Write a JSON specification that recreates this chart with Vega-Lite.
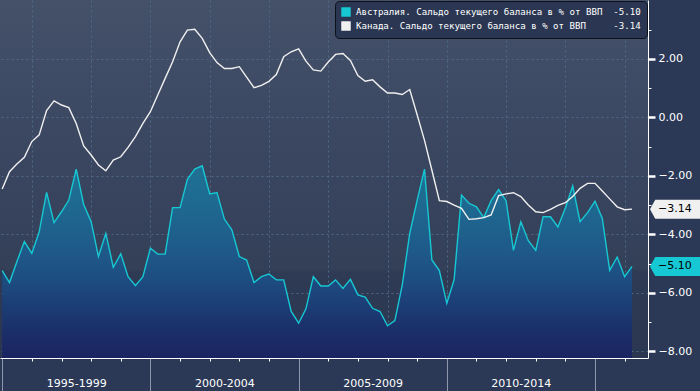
{
  "$schema": "https://vega.github.io/schema/vega-lite/v6.json",
  "width": 648,
  "height": 358,
  "autosize": {"type": "none"},
  "padding": {"left": 0, "top": 0, "right": 52, "bottom": 33},
  "background": "#2c3956",
  "config": {
    "view": {
      "stroke": null,
      "fill": {"gradient": "linear", "x1": 0, "y1": 0, "x2": 0, "y2": 1,
        "stops": [
          {"offset": 0, "color": "#445169"},
          {"offset": 0.45, "color": "#3a4660"},
          {"offset": 0.75, "color": "#343f58"},
          {"offset": 0.76, "color": "#2f3a54"},
          {"offset": 1, "color": "#2b3650"}
        ]}
    },
    "font": "DejaVu Sans"
  },
  "data": {"values": [
    {"d":"1995-01-01","au":-5.24,"ca":-2.45},
    {"d":"1995-04-01","au":-5.65,"ca":-1.86},
    {"d":"1995-07-01","au":-4.94,"ca":-1.60},
    {"d":"1995-10-01","au":-4.25,"ca":-1.37},
    {"d":"1996-01-01","au":-4.65,"ca":-0.83},
    {"d":"1996-04-01","au":-3.92,"ca":-0.60},
    {"d":"1996-07-01","au":-2.57,"ca":0.23},
    {"d":"1996-10-01","au":-3.60,"ca":0.56},
    {"d":"1997-01-01","au":-3.23,"ca":0.42},
    {"d":"1997-04-01","au":-2.83,"ca":0.33},
    {"d":"1997-07-01","au":-1.77,"ca":-0.21},
    {"d":"1997-10-01","au":-2.98,"ca":-0.98},
    {"d":"1998-01-01","au":-3.57,"ca":-1.29},
    {"d":"1998-04-01","au":-4.76,"ca":-1.63},
    {"d":"1998-07-01","au":-3.97,"ca":-1.83},
    {"d":"1998-10-01","au":-5.13,"ca":-1.46},
    {"d":"1999-01-01","au":-4.67,"ca":-1.35},
    {"d":"1999-04-01","au":-5.45,"ca":-1.03},
    {"d":"1999-07-01","au":-5.76,"ca":-0.66},
    {"d":"1999-10-01","au":-5.45,"ca":-0.21},
    {"d":"2000-01-01","au":-4.48,"ca":0.19},
    {"d":"2000-04-01","au":-4.68,"ca":0.76},
    {"d":"2000-07-01","au":-4.68,"ca":1.33},
    {"d":"2000-10-01","au":-3.09,"ca":1.90},
    {"d":"2001-01-01","au":-3.09,"ca":2.58},
    {"d":"2001-04-01","au":-2.12,"ca":2.98},
    {"d":"2001-07-01","au":-1.77,"ca":3.01},
    {"d":"2001-10-01","au":-1.66,"ca":2.70},
    {"d":"2002-01-01","au":-2.62,"ca":2.21},
    {"d":"2002-04-01","au":-2.57,"ca":1.87},
    {"d":"2002-07-01","au":-3.48,"ca":1.67},
    {"d":"2002-10-01","au":-3.85,"ca":1.67},
    {"d":"2003-01-01","au":-4.76,"ca":1.73},
    {"d":"2003-04-01","au":-4.88,"ca":1.37},
    {"d":"2003-07-01","au":-5.65,"ca":1.01},
    {"d":"2003-10-01","au":-5.45,"ca":1.09},
    {"d":"2004-01-01","au":-5.36,"ca":1.23},
    {"d":"2004-04-01","au":-5.56,"ca":1.46},
    {"d":"2004-07-01","au":-5.56,"ca":2.07},
    {"d":"2004-10-01","au":-6.64,"ca":2.24},
    {"d":"2005-01-01","au":-7.04,"ca":2.34},
    {"d":"2005-04-01","au":-6.55,"ca":1.92},
    {"d":"2005-07-01","au":-5.45,"ca":1.62},
    {"d":"2005-10-01","au":-5.77,"ca":1.58},
    {"d":"2006-01-01","au":-5.77,"ca":1.89},
    {"d":"2006-04-01","au":-5.56,"ca":2.15},
    {"d":"2006-07-01","au":-5.85,"ca":2.18},
    {"d":"2006-10-01","au":-5.54,"ca":1.94},
    {"d":"2007-01-01","au":-6.07,"ca":1.43},
    {"d":"2007-04-01","au":-6.15,"ca":1.23},
    {"d":"2007-07-01","au":-6.53,"ca":1.28},
    {"d":"2007-10-01","au":-6.64,"ca":1.04},
    {"d":"2008-01-01","au":-7.13,"ca":0.83},
    {"d":"2008-04-01","au":-6.95,"ca":0.83},
    {"d":"2008-07-01","au":-5.73,"ca":0.78},
    {"d":"2008-10-01","au":-3.97,"ca":0.95},
    {"d":"2009-01-01","au":-2.83,"ca":0.08},
    {"d":"2009-04-01","au":-1.77,"ca":-0.79},
    {"d":"2009-07-01","au":-4.88,"ca":-1.81},
    {"d":"2009-10-01","au":-5.24,"ca":-2.85},
    {"d":"2010-01-01","au":-6.36,"ca":-2.88},
    {"d":"2010-04-01","au":-5.55,"ca":-3.00},
    {"d":"2010-07-01","au":-2.66,"ca":-3.11},
    {"d":"2010-10-01","au":-2.94,"ca":-3.49},
    {"d":"2011-01-01","au":-3.06,"ca":-3.47},
    {"d":"2011-04-01","au":-3.43,"ca":-3.43},
    {"d":"2011-07-01","au":-2.85,"ca":-3.34},
    {"d":"2011-10-01","au":-2.47,"ca":-2.68},
    {"d":"2012-01-01","au":-2.85,"ca":-2.62},
    {"d":"2012-04-01","au":-4.55,"ca":-2.58},
    {"d":"2012-07-01","au":-3.57,"ca":-2.71},
    {"d":"2012-10-01","au":-4.22,"ca":-3.00},
    {"d":"2013-01-01","au":-4.55,"ca":-3.23},
    {"d":"2013-04-01","au":-3.40,"ca":-3.26},
    {"d":"2013-07-01","au":-3.40,"ca":-3.15},
    {"d":"2013-10-01","au":-3.75,"ca":-3.01},
    {"d":"2014-01-01","au":-3.10,"ca":-2.92},
    {"d":"2014-04-01","au":-2.35,"ca":-2.71},
    {"d":"2014-07-01","au":-3.57,"ca":-2.43},
    {"d":"2014-10-01","au":-3.26,"ca":-2.26},
    {"d":"2015-01-01","au":-2.87,"ca":-2.26},
    {"d":"2015-04-01","au":-3.46,"ca":-2.52},
    {"d":"2015-07-01","au":-5.23,"ca":-2.79},
    {"d":"2015-10-01","au":-4.78,"ca":-3.06},
    {"d":"2016-01-01","au":-5.45,"ca":-3.16},
    {"d":"2016-04-01","au":-5.10,"ca":-3.14}
  ]},
  "transform": [{"fold": ["au", "ca"], "as": ["s", "v"]}],
  "encoding": {
    "x": {
      "field": "d", "type": "temporal",
      "scale": {"domain": [{"year": 1994, "month": 12, "date": 5}, {"year": 2016, "month": 10, "date": 15}]},
      "axis": {
        "title": null,
        "values": [{"year":1995},{"year":1996},{"year":1997},{"year":1998},{"year":1999},{"year":2000},{"year":2001},{"year":2002},{"year":2003},{"year":2004},{"year":2005},{"year":2006},{"year":2007},{"year":2008},{"year":2009},{"year":2010},{"year":2011},{"year":2012},{"year":2013},{"year":2014},{"year":2015},{"year":2016}],
        "labelExpr": "year(datum.value) % 5 === 0 && year(datum.value) < 2015 ? year(datum.value) + '-' + (year(datum.value) + 4) : ''",
        "labelOffset": 74,
        "labelFont": "DejaVu Sans",
        "labelFontSize": 11,
        "labelColor": "#ffffff",
        "labelPadding": -14,
        "labelFlush": false,
        "labelOverlap": false,
        "labelBound": false,
        "tickSize": {"condition": {"test": "year(datum.value) % 5 === 0", "value": 33}, "value": 3},
        "tickColor": {"condition": {"test": "year(datum.value) % 5 === 0", "value": "#8e97a9"}, "value": "#ffffff"},
        "tickWidth": 1,
        "domainColor": "#ffffff",
        "domainWidth": 1,
        "grid": true,
        "gridColor": {"condition": {"test": "year(datum.value) % 2 === 0", "value": "#4f6888"}, "value": "transparent"},
        "gridDash": [2, 3],
        "gridWidth": 1
      }
    },
    "y": {
      "field": "v", "type": "quantitative",
      "scale": {"domain": [-8.23, 4.01], "nice": false, "zero": false},
      "axis": {
        "orient": "right",
        "title": null,
        "values": [-8, -7, -6, -5, -4, -3, -2, -1, 0, 1, 2, 3],
        "labelExpr": "datum.value % 2 === 0 ? format(datum.value, '.2f') : ''",
        "labelFont": "DejaVu Sans",
        "labelFontSize": 11,
        "labelColor": "#ffffff",
        "labelPadding": 3,
        "labelBound": false,
        "labelOverlap": false,
        "domainColor": "#ffffff",
        "domainWidth": 1,
        "tickColor": "#ffffff",
        "tickSize": {"condition": {"test": "datum.value % 2 === 0", "value": 7}, "value": 3},
        "tickWidth": {"condition": {"test": "datum.value % 2 === 0", "value": 2.5}, "value": 1},
        "grid": true,
        "gridColor": {"condition": {"test": "datum.value % 2 === 0", "value": "#4f6888"}, "value": "transparent"},
        "gridDash": [2, 3],
        "gridWidth": 1
      }
    }
  },
  "layer": [
    {
      "transform": [{"filter": "datum.s === 'au'"}],
      "mark": {
        "type": "area",
        "color": {"gradient": "linear", "x1": 0, "y1": 0, "x2": 0, "y2": 1,
          "stops": [
            {"offset": 0, "color": "#1f7294"},
            {"offset": 0.22, "color": "#1e6890"},
            {"offset": 0.45, "color": "#1e5989"},
            {"offset": 0.6, "color": "#1d4c81"},
            {"offset": 0.72, "color": "#1c3e76"},
            {"offset": 0.85, "color": "#1b306b"},
            {"offset": 1, "color": "#1a2461"}
          ]}
      },
      "encoding": {"y2": {"datum": -8.23}}
    },
    {
      "mark": {"type": "line", "strokeWidth": 1.4},
      "encoding": {
        "color": {"field": "s", "type": "nominal",
          "scale": {"domain": ["au", "ca"], "range": ["#16c8d3", "#f0f0f0"]},
          "legend": {
            "title": null,
            "orient": "top-right",
            "offset": 1,
            "symbolType": "square",
            "symbolSize": 90,
            "symbolStrokeWidth": 0,
            "labelFont": "DejaVu Sans Mono",
            "labelFontSize": 9.1,
            "labelColor": "#ffffff",
            "labelLimit": 500,
            "labelOffset": 5,
            "fillColor": "#2b3752",
            "strokeColor": "#0d111b",
            "cornerRadius": 4,
            "padding": 6,
            "rowPadding": 3,
            "labelExpr": "datum.value === 'au' ? 'Австралия. Сальдо текущего баланса в % от ВВП\u00a0\u00a0-5.10' : 'Канада. Сальдо текущего баланса в % от ВВП\u00a0\u00a0\u00a0\u00a0\u00a0-3.14'",
            "encode": {"symbols": {"update": {"fill": {"scale": "color", "field": "value"}, "fillOpacity": {"value": 1}, "strokeWidth": {"value": 0}}}}
          }
        }
      }
    },
    {
      "transform": [{"filter": "datum.d > datetime(2016, 1, 15)"}],
      "mark": {"type": "point", "shape": "M0,0L0.55,-1L5.6,-1L5.6,1L0.55,1Z", "size": 361, "filled": true, "opacity": 1, "xOffset": 18, "strokeWidth": 0},
      "encoding": {
        "color": {"field": "s", "type": "nominal",
          "scale": {"domain": ["au", "ca"], "range": ["#16c8d3", "#f0f0f0"]},
          "legend": null
        }
      }
    },
    {
      "transform": [{"filter": "datum.d > datetime(2016, 1, 15)"}],
      "mark": {"type": "text", "align": "left", "baseline": "middle", "dx": 26, "font": "DejaVu Sans", "fontSize": 11, "color": "#000000"},
      "encoding": {"text": {"field": "v", "type": "quantitative", "format": ".2f"}}
    }
  ]
}
